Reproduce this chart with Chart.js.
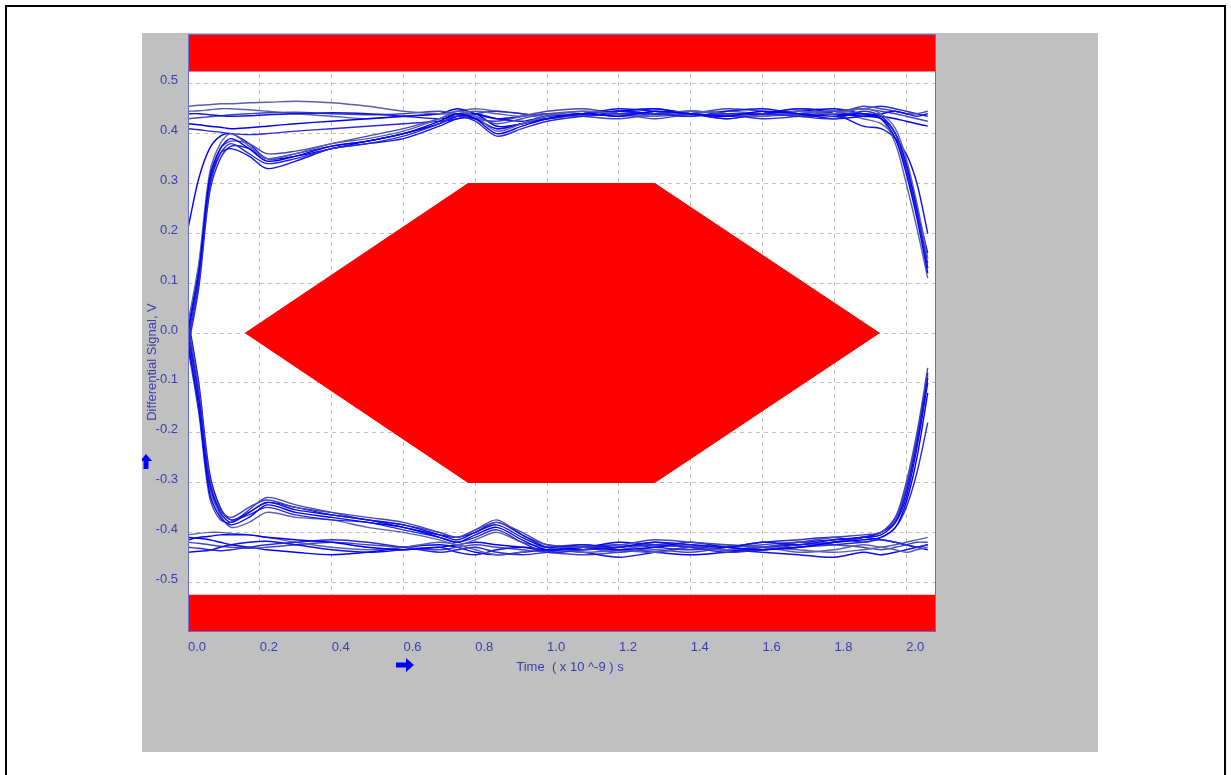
<!DOCTYPE html>
<html>
<head>
<meta charset="utf-8">
<script src="https://cdn.jsdelivr.net/npm/chart.js@4.4.0/dist/chart.umd.min.js"></script>
<style>
html, body { margin: 0; padding: 0; background: #fff; width: 1231px; height: 775px; overflow: hidden; }
#frame { position: absolute; left: 5px; top: 5px; width: 1217px; height: 800px; border: 2px solid #000; }
#panel { position: absolute; left: 142px; top: 33px; width: 956px; height: 719px; background: #c0c0c0; }
</style>
</head>
<body>
<div id="frame"></div>
<div id="panel"><canvas id="eyeChart"></canvas></div>
<script>
// time axis in ns, shared by every trace
var timeNs = [0.00, 0.03, 0.06, 0.09, 0.12, 0.17, 0.22, 0.30, 0.40, 0.50, 0.60, 0.70, 0.75, 0.80, 0.86, 0.93,
              1.00, 1.10, 1.20, 1.30, 1.40, 1.50, 1.60, 1.70, 1.80, 1.88, 1.93, 1.97, 2.00, 2.03, 2.06];

// upper rail: rising edges at the start, some falling again at the end
var riseA = [0.00, 0.12, 0.31, 0.37, 0.39, 0.37, 0.345, 0.355, 0.375, 0.385, 0.40, 0.425, 0.44, 0.43, 0.40, 0.415, 0.43, 0.44, 0.435, 0.445, 0.44, 0.435, 0.445, 0.44, 0.435, 0.44, 0.43, 0.39, 0.32, 0.23, 0.12];
var riseB = [-0.02, 0.10, 0.29, 0.36, 0.38, 0.36, 0.34, 0.35, 0.37, 0.38, 0.395, 0.42, 0.435, 0.425, 0.395, 0.41, 0.425, 0.435, 0.44, 0.44, 0.435, 0.44, 0.44, 0.435, 0.43, 0.445, 0.435, 0.40, 0.33, 0.24, 0.14];
var riseC = [0.02, 0.14, 0.32, 0.38, 0.40, 0.375, 0.35, 0.36, 0.38, 0.39, 0.405, 0.43, 0.445, 0.435, 0.405, 0.42, 0.435, 0.445, 0.44, 0.435, 0.445, 0.44, 0.435, 0.445, 0.44, 0.45, 0.44, 0.41, 0.35, 0.26, 0.15];
var riseD = [0.01, 0.13, 0.30, 0.36, 0.37, 0.355, 0.33, 0.345, 0.37, 0.38, 0.39, 0.415, 0.43, 0.43, 0.41, 0.42, 0.43, 0.44, 0.445, 0.44, 0.435, 0.445, 0.45, 0.44, 0.43, 0.435, 0.44, 0.445, 0.44, 0.435, 0.44];
var riseE = [-0.01, 0.11, 0.30, 0.37, 0.385, 0.38, 0.36, 0.365, 0.38, 0.395, 0.41, 0.43, 0.44, 0.435, 0.42, 0.43, 0.44, 0.435, 0.43, 0.44, 0.445, 0.44, 0.435, 0.44, 0.445, 0.45, 0.445, 0.44, 0.435, 0.43, 0.425];
var riseF = [0.21, 0.31, 0.37, 0.395, 0.40, 0.38, 0.35, 0.355, 0.37, 0.385, 0.40, 0.42, 0.435, 0.44, 0.415, 0.42, 0.435, 0.44, 0.445, 0.44, 0.44, 0.435, 0.44, 0.445, 0.44, 0.435, 0.43, 0.40, 0.34, 0.25, 0.16];
var riseG = [-0.03, 0.09, 0.28, 0.35, 0.375, 0.37, 0.35, 0.36, 0.375, 0.385, 0.40, 0.42, 0.44, 0.43, 0.41, 0.42, 0.43, 0.44, 0.435, 0.44, 0.445, 0.44, 0.44, 0.435, 0.44, 0.44, 0.435, 0.40, 0.34, 0.25, 0.13];
var highA = [0.455, 0.457, 0.458, 0.46, 0.46, 0.462, 0.463, 0.465, 0.462, 0.455, 0.445, 0.44, 0.44, 0.445, 0.44, 0.435, 0.44, 0.445, 0.44, 0.435, 0.44, 0.445, 0.44, 0.44, 0.445, 0.44, 0.43, 0.38, 0.30, 0.21, 0.11];
var highB = [0.44, 0.44, 0.438, 0.436, 0.435, 0.436, 0.438, 0.44, 0.442, 0.44, 0.435, 0.43, 0.435, 0.44, 0.43, 0.425, 0.435, 0.44, 0.45, 0.445, 0.44, 0.43, 0.44, 0.45, 0.44, 0.415, 0.41, 0.39, 0.36, 0.30, 0.20];
var highC = [0.43, 0.432, 0.434, 0.436, 0.438, 0.44, 0.442, 0.443, 0.44, 0.438, 0.44, 0.445, 0.44, 0.43, 0.425, 0.435, 0.445, 0.45, 0.44, 0.43, 0.44, 0.45, 0.445, 0.435, 0.44, 0.455, 0.45, 0.445, 0.44, 0.44, 0.445];
var highD = [0.42, 0.418, 0.415, 0.413, 0.41, 0.412, 0.415, 0.42, 0.425, 0.43, 0.435, 0.44, 0.45, 0.44, 0.43, 0.435, 0.44, 0.435, 0.445, 0.45, 0.44, 0.435, 0.44, 0.445, 0.45, 0.44, 0.435, 0.43, 0.425, 0.42, 0.415];
var highE = [0.41, 0.408, 0.405, 0.403, 0.40, 0.398, 0.40, 0.405, 0.41, 0.415, 0.42, 0.425, 0.43, 0.44, 0.445, 0.44, 0.435, 0.44, 0.445, 0.44, 0.445, 0.44, 0.43, 0.435, 0.445, 0.45, 0.455, 0.45, 0.445, 0.44, 0.435];
var highF = [0.445, 0.446, 0.448, 0.45, 0.45, 0.448, 0.445, 0.44, 0.435, 0.43, 0.435, 0.44, 0.445, 0.45, 0.445, 0.44, 0.43, 0.44, 0.445, 0.45, 0.44, 0.43, 0.44, 0.45, 0.445, 0.43, 0.42, 0.39, 0.33, 0.24, 0.13];

// lower rail: falling edges at the start, some rising again at the end
var fallA = [0.00, -0.13, -0.30, -0.36, -0.38, -0.36, -0.34, -0.355, -0.365, -0.375, -0.385, -0.405, -0.415, -0.40, -0.385, -0.41, -0.43, -0.425, -0.43, -0.42, -0.425, -0.43, -0.42, -0.425, -0.415, -0.41, -0.405, -0.38, -0.32, -0.22, -0.09];
var fallB = [0.02, -0.11, -0.29, -0.355, -0.37, -0.35, -0.335, -0.35, -0.36, -0.37, -0.38, -0.40, -0.41, -0.395, -0.38, -0.40, -0.425, -0.43, -0.425, -0.415, -0.42, -0.425, -0.43, -0.42, -0.41, -0.405, -0.40, -0.37, -0.30, -0.20, -0.07];
var fallC = [-0.02, -0.15, -0.32, -0.37, -0.385, -0.37, -0.345, -0.36, -0.37, -0.38, -0.39, -0.41, -0.42, -0.405, -0.39, -0.415, -0.435, -0.43, -0.435, -0.43, -0.42, -0.43, -0.435, -0.43, -0.42, -0.415, -0.41, -0.39, -0.34, -0.25, -0.12];
var fallD = [0.01, -0.12, -0.30, -0.355, -0.375, -0.365, -0.35, -0.365, -0.375, -0.38, -0.395, -0.41, -0.42, -0.41, -0.395, -0.42, -0.44, -0.435, -0.43, -0.425, -0.43, -0.44, -0.435, -0.43, -0.425, -0.42, -0.415, -0.42, -0.425, -0.43, -0.425];
var fallE = [-0.01, -0.14, -0.31, -0.365, -0.39, -0.38, -0.36, -0.37, -0.375, -0.39, -0.40, -0.415, -0.425, -0.415, -0.40, -0.42, -0.43, -0.44, -0.435, -0.425, -0.43, -0.435, -0.43, -0.44, -0.435, -0.425, -0.43, -0.435, -0.44, -0.435, -0.43];
var fallF = [0.03, -0.10, -0.28, -0.35, -0.375, -0.36, -0.34, -0.35, -0.365, -0.375, -0.39, -0.405, -0.41, -0.40, -0.38, -0.405, -0.43, -0.435, -0.43, -0.42, -0.43, -0.435, -0.43, -0.42, -0.415, -0.41, -0.40, -0.38, -0.33, -0.23, -0.10];
var fallG = [-0.03, -0.16, -0.33, -0.375, -0.38, -0.355, -0.33, -0.345, -0.36, -0.375, -0.385, -0.40, -0.41, -0.395, -0.375, -0.405, -0.425, -0.43, -0.44, -0.43, -0.425, -0.43, -0.435, -0.425, -0.42, -0.41, -0.40, -0.375, -0.31, -0.21, -0.085];
var lowA = [-0.415, -0.41, -0.408, -0.405, -0.405, -0.405, -0.41, -0.415, -0.42, -0.43, -0.435, -0.43, -0.425, -0.42, -0.425, -0.43, -0.435, -0.43, -0.42, -0.425, -0.43, -0.435, -0.43, -0.425, -0.42, -0.41, -0.40, -0.37, -0.31, -0.21, -0.08];
var lowB = [-0.43, -0.432, -0.435, -0.437, -0.435, -0.43, -0.425, -0.42, -0.415, -0.42, -0.43, -0.44, -0.435, -0.43, -0.44, -0.445, -0.44, -0.43, -0.425, -0.43, -0.435, -0.43, -0.42, -0.415, -0.41, -0.42, -0.41, -0.39, -0.35, -0.28, -0.18];
var lowC = [-0.405, -0.402, -0.40, -0.40, -0.402, -0.405, -0.41, -0.42, -0.43, -0.435, -0.43, -0.42, -0.425, -0.435, -0.445, -0.44, -0.43, -0.425, -0.435, -0.44, -0.43, -0.425, -0.43, -0.435, -0.44, -0.435, -0.43, -0.425, -0.42, -0.415, -0.41];
var lowD = [-0.44, -0.438, -0.436, -0.43, -0.425, -0.42, -0.418, -0.425, -0.435, -0.44, -0.435, -0.43, -0.44, -0.445, -0.435, -0.43, -0.435, -0.44, -0.45, -0.44, -0.43, -0.435, -0.44, -0.445, -0.45, -0.44, -0.445, -0.44, -0.435, -0.43, -0.425];
var lowE = [-0.42, -0.422, -0.425, -0.428, -0.43, -0.432, -0.43, -0.425, -0.42, -0.425, -0.43, -0.435, -0.43, -0.425, -0.43, -0.435, -0.44, -0.445, -0.44, -0.435, -0.44, -0.43, -0.425, -0.42, -0.425, -0.43, -0.435, -0.43, -0.425, -0.42, -0.42];
var lowF = [-0.41, -0.412, -0.415, -0.42, -0.425, -0.43, -0.435, -0.44, -0.445, -0.44, -0.43, -0.425, -0.43, -0.44, -0.445, -0.44, -0.435, -0.43, -0.435, -0.44, -0.445, -0.44, -0.435, -0.43, -0.42, -0.41, -0.415, -0.42, -0.425, -0.43, -0.435];

var traces = [riseA, riseB, riseC, riseD, riseE, riseF, riseG, highA, highB, highC, highD, highE, highF,
              fallA, fallB, fallC, fallD, fallE, fallF, fallG, lowA, lowB, lowC, lowD, lowE, lowF];

// eye mask (hexagon) and the limit bands
var maskTime = [0.16, 0.78, 1.30, 1.925];
var maskUpper = [0, 0.3, 0.3, 0];
var maskLower = [0, -0.3, -0.3, 0];
var bandLevel = 0.525;

var xMax = 2.083;
var xTicks = [0.0, 0.2, 0.4, 0.6, 0.8, 1.0, 1.2, 1.4, 1.6, 1.8, 2.0];
var yTicks = [-0.5, -0.4, -0.3, -0.2, -0.1, 0.0, 0.1, 0.2, 0.3, 0.4, 0.5];
var xTitle = 'Time  ( x 10 ^-9 ) s';
var yTitle = 'Differential Signal, V';

var labelColor = '#3c3cb0';
var labelFont = '"Liberation Sans", Arial, sans-serif';
var lineColors = ['#0000ff', '#2a2ad4', '#5a60a8', '#1010e6', '#4646bc'];

function points(xs, ys) {
    return xs.map((x, i) => ({x: x, y: ys[i]}));
}

var datasets = traces.map((tr, i) => ({
    data: points(timeNs, tr),
    borderColor: lineColors[i % lineColors.length],
    borderWidth: 1.4,
    pointRadius: 0,
    tension: 0.3,
    fill: false,
    order: 1
}));

var red = '#ff0000';
datasets.push(
    {data: points(maskTime, maskUpper), borderColor: red, backgroundColor: red, borderWidth: 1, pointRadius: 0, tension: 0, fill: 'origin', order: 2},
    {data: points(maskTime, maskLower), borderColor: red, backgroundColor: red, borderWidth: 1, pointRadius: 0, tension: 0, fill: 'origin', order: 2},
    {data: points([0, xMax], [bandLevel, bandLevel]), borderColor: red, backgroundColor: red, borderWidth: 0, pointRadius: 0, fill: 'end', order: 2},
    {data: points([0, xMax], [-bandLevel, -bandLevel]), borderColor: red, backgroundColor: red, borderWidth: 0, pointRadius: 0, fill: 'start', order: 2}
);

function arrow(ctx, x, y, dir) {
    // small solid arrow, dir 'up' or 'right', (x, y) = tip
    ctx.beginPath();
    if (dir == 'up') {
        ctx.moveTo(x, y);
        ctx.lineTo(x + 6, y + 7);
        ctx.lineTo(x + 2.5, y + 7);
        ctx.lineTo(x + 2.5, y + 15);
        ctx.lineTo(x - 2.5, y + 15);
        ctx.lineTo(x - 2.5, y + 7);
        ctx.lineTo(x - 6, y + 7);
    } else {
        ctx.moveTo(x, y);
        ctx.lineTo(x - 8, y - 7);
        ctx.lineTo(x - 8, y - 2.5);
        ctx.lineTo(x - 18, y - 2.5);
        ctx.lineTo(x - 18, y + 2.5);
        ctx.lineTo(x - 8, y + 2.5);
        ctx.lineTo(x - 8, y + 7);
    }
    ctx.closePath();
    ctx.fill();
}

const eyeDecor = {
    id: 'eyeDecor',
    beforeDraw(chart) {
        const {ctx, chartArea: a} = chart;
        ctx.save();
        ctx.fillStyle = '#fff';
        ctx.fillRect(a.left, a.top, a.right - a.left, a.bottom - a.top);
        ctx.restore();
    },
    afterDraw(chart) {
        const {ctx, chartArea: a} = chart;
        ctx.save();
        ctx.strokeStyle = '#6a6ad8';
        ctx.lineWidth = 1;
        ctx.strokeRect(a.left + 0.5, a.top + 0.5, a.right - a.left - 1, a.bottom - a.top - 1);

        ctx.fillStyle = labelColor;
        ctx.font = '13px ' + labelFont;
        ctx.textAlign = 'center';
        ctx.textBaseline = 'middle';
        ctx.fillText(xTitle, (a.left + a.right) / 2 + 8, a.bottom + 35);

        ctx.fillStyle = '#0000ff';
        arrow(ctx, a.left - 42, a.top + 420, 'up');
        arrow(ctx, a.left + 226, a.bottom + 33, 'right');

        ctx.fillStyle = labelColor;
        ctx.translate(a.left - 36, (a.top + a.bottom) / 2 + 29);
        ctx.rotate(-Math.PI / 2);
        ctx.fillText(yTitle, 0, 0);
        ctx.restore();
    }
};

const ctx = document.getElementById('eyeChart').getContext('2d');
const eyeChart = new Chart(ctx, {
    type: 'line',
    data: {datasets: datasets},
    plugins: [eyeDecor],
    options: {
        responsive: true,
        maintainAspectRatio: false,
        animation: false,
        layout: {padding: {left: 0, top: 1, right: 162, bottom: 78}},
        plugins: {legend: {display: false}, tooltip: {enabled: false}},
        scales: {
            x: {
                type: 'linear',
                min: 0,
                max: xMax,
                afterBuildTicks: s => { s.ticks = xTicks.map(v => ({value: v})); },
                afterFit: s => { s.height = 42; s.paddingLeft = 0; s.paddingRight = 0; },
                grid: {color: '#c0c0c0', drawTicks: false},
                border: {display: false, dash: [4, 4]},
                ticks: {
                    align: 'start',
                    padding: 8,
                    color: labelColor,
                    font: {family: labelFont, size: 13},
                    callback: v => v.toFixed(1)
                }
            },
            y: {
                min: -0.6,
                max: 0.6,
                afterBuildTicks: s => { s.ticks = yTicks.map(v => ({value: v})); },
                afterFit: s => { s.width = 46; s.paddingTop = 0; s.paddingBottom = 0; },
                grid: {color: '#c0c0c0', drawTicks: false},
                border: {display: false, dash: [4, 4]},
                ticks: {
                    padding: 10,
                    labelOffset: -3,
                    color: labelColor,
                    font: {family: labelFont, size: 13},
                    callback: v => v.toFixed(1)
                }
            }
        }
    }
});
</script>
</body>
</html>
